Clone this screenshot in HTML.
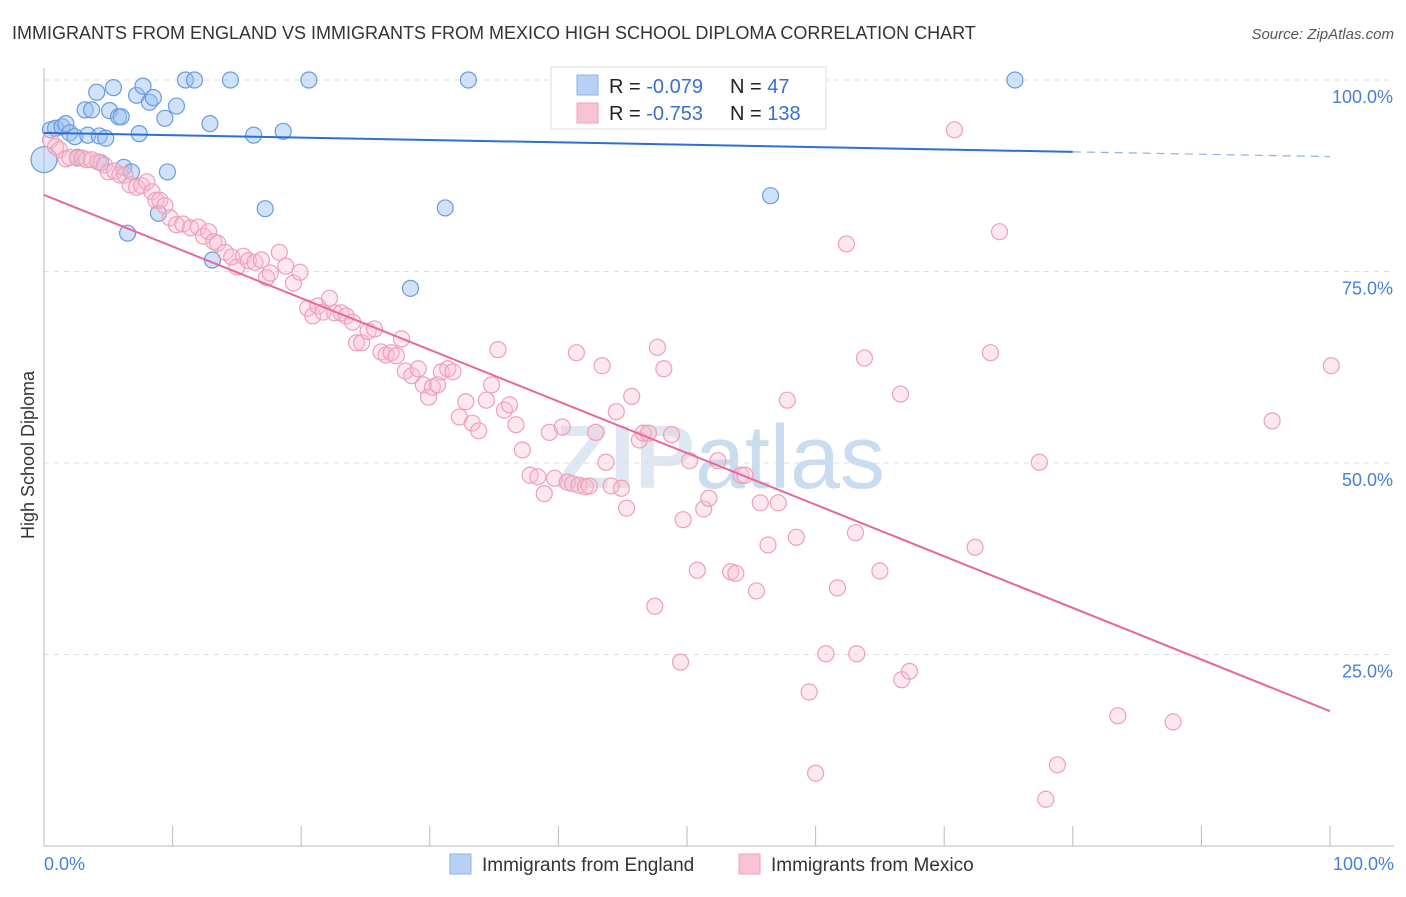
<!DOCTYPE html>
<html><head><meta charset="utf-8"><style>
body{margin:0;background:#fff;font-family:"Liberation Sans",sans-serif;}
svg text{font-family:"Liberation Sans",sans-serif;}
</style></head><body>
<svg id="chart" width="1406" height="892" xmlns="http://www.w3.org/2000/svg">
<text x="12" y="39" font-size="18" fill="#333">IMMIGRANTS FROM ENGLAND VS IMMIGRANTS FROM MEXICO HIGH SCHOOL DIPLOMA CORRELATION CHART</text>
<text x="1394" y="39" font-size="15" fill="#555" text-anchor="end" font-style="italic">Source: ZipAtlas.com</text>
<text x="720" y="488" font-size="90" fill="#dfe8f2" text-anchor="middle" font-weight="bold">ZIP<tspan font-weight="normal" fill="#c9dcf0">atlas</tspan></text>
<g id="grid"></g>
<g id="axes"></g>
<g id="pts"></g>
<g id="lines"></g>
<text x="34" y="455" font-size="18" fill="#333" text-anchor="middle" transform="rotate(-90 34 455)">High School Diploma</text>
<g>
<rect x="551" y="67" width="275" height="62" fill="#fff" stroke="#ddd"/>
<rect x="577" y="75" width="21" height="20" fill="#b7d0f3" stroke="#8fb2e6"/>
<rect x="577" y="103" width="21" height="20" fill="#f9c3d3" stroke="#eea4bb"/>
<text x="609" y="93" font-size="20" fill="#222">R = <tspan fill="#3a6fd0">-0.079</tspan></text>
<text x="730" y="93" font-size="20" fill="#222">N = <tspan fill="#3a6fd0"> 47</tspan></text>
<text x="609" y="120" font-size="20" fill="#222">R = <tspan fill="#3a6fd0"> -0.753</tspan></text>
<text x="730" y="120" font-size="20" fill="#222">N = <tspan fill="#3a6fd0">138</tspan></text>
</g>
<g>
<rect x="450" y="854" width="21" height="20" fill="#b7d0f3" stroke="#8fb2e6"/>
<text x="482" y="871" font-size="19" fill="#333">Immigrants from England</text>
<rect x="739" y="854" width="21" height="20" fill="#f9c3d3" stroke="#eea4bb"/>
<text x="771" y="871" font-size="19" fill="#333">Immigrants from Mexico</text>
</g>
</svg>
<script>
const yTicks=[100,75,50,25];
const yTickLabels=["100.0%","75.0%","50.0%","25.0%"];
const xTickLabels=["0.0%","100.0%"];
const englandPx=[[44,160],[50,130],[55,128],[62,127],[66,124],[70,133],[75,137],[78,157],[85,110],[88,135],[92,110],[97,92],[99,136],[101,163],[106,138],[110,111],[114,88],[118,117],[121,117],[124,167],[127,233],[132,172],[136,95],[139,134],[143,86],[149,102],[153,98],[158,213],[165,118],[168,172],[177,106],[186,80],[195,80],[210,124],[213,260],[231,80],[253,135],[265,209],[283,131],[309,80],[410,288],[445,208],[468,80],[771,196],[1015,80]];
const mexicoPx=[[50,140],[55,147],[60,150],[66,159],[70,157],[78,158],[82,158],[87,160],[92,160],[98,162],[104,165],[108,172],[115,171],[120,175],[125,175],[130,185],[137,187],[142,186],[147,182],[152,192],[156,200],[160,200],[165,206],[170,218],[176,225],[183,224],[190,228],[198,227],[204,236],[208,232],[214,242],[218,243],[225,252],[232,257],[237,267],[243,256],[249,261],[255,262],[261,260],[266,278],[270,273],[279,252],[286,266],[293,283],[300,272],[307,308],[313,316],[318,306],[323,312],[330,298],[335,313],[341,313],[346,316],[352,322],[356,343],[362,343],[368,331],[374,329],[381,352],[386,355],[391,353],[396,356],[401,339],[406,371],[412,376],[418,369],[424,385],[428,397],[433,387],[438,385],[442,372],[448,369],[453,372],[459,417],[466,402],[472,423],[479,431],[487,400],[492,385],[498,350],[505,410],[510,405],[516,425],[522,450],[530,475],[538,477],[544,494],[549,432],[555,478],[562,427],[567,482],[572,484],[576,353],[579,485],[585,487],[589,486],[596,432],[602,366],[606,462],[611,486],[616,412],[621,488],[627,508],[632,396],[639,440],[643,433],[648,433],[655,606],[658,347],[664,369],[671,435],[680,662],[683,520],[690,461],[697,570],[704,509],[709,498],[718,461],[731,572],[736,573],[741,475],[745,475],[757,591],[760,503],[768,545],[775,81],[778,503],[787,400],[796,537],[809,692],[815,773],[826,654],[838,588],[846,244],[855,533],[857,654],[865,358],[880,571],[900,394],[902,680],[909,671],[955,130],[975,547],[991,353],[999,232],[1040,462],[1046,799],[1058,765],[1118,716],[1173,722],[1272,421],[1331,366]];
// convert pixel readings to data values (percent)
const englandX=englandPx.map(p=>+((p[0]-44)/12.86).toFixed(1));
const englandY=englandPx.map(p=>+((846-p[1])/7.66).toFixed(1));
const mexicoX=mexicoPx.map(p=>+((p[0]-44)/12.86).toFixed(1));
const mexicoY=mexicoPx.map(p=>+((846-p[1])/7.66).toFixed(1));
const englandTrend=[93.1,90.0];
const mexicoTrend=[85.0,17.6];
const X0=44,X1=1330,Y0=846,Y100=80;
const sx=v=>X0+(X1-X0)*v/100;
const sy=v=>Y0-(Y0-Y100)*v/100;
const NS="http://www.w3.org/2000/svg";
function mk(parent,tag,attrs){const e=document.createElementNS(NS,tag);for(const k in attrs)e.setAttribute(k,attrs[k]);document.getElementById(parent).appendChild(e);return e;}
yTicks.forEach((t,i)=>{
 const g=mk('grid','line',{x1:X0,x2:1394,y1:sy(t),y2:sy(t),stroke:'#ddd','stroke-dasharray':'5,5'});
 
 
 const l=mk('axes','text',{x:1393,y:sy(t)+23,'font-size':18,fill:'#4a7fd6','text-anchor':'end'});
 l.textContent=yTickLabels[i];
 
 
});
const ax=mk('axes','line',{x1:X0,x2:X0,y1:68,y2:Y0,stroke:'#bbb'});


const bx=mk('axes','line',{x1:X0,x2:1394,y1:Y0,y2:Y0,stroke:'#bbb'});


for(let i=0;i<=10;i++){
 const t=mk('axes','line',{x1:sx(i*10),x2:sx(i*10),y1:826,y2:Y0,stroke:'#bbb'});
 
 
}
[[0,'start',44],[100,'end',1394]].forEach((d,i)=>{
 const l=mk('axes','text',{x:d[2],y:870,'font-size':18,fill:'#4a7fd6','text-anchor':d[1]});
 l.textContent=xTickLabels[i];
 
 
});
englandX.forEach((x,i)=>{
 const r=i===0?13:8;
 const c=mk('pts','circle',{cx:sx(x),cy:sy(englandY[i]),r:r,fill:'rgba(150,190,240,0.45)',stroke:'#6a9be0','stroke-width':1.2});
 
 
});
mexicoX.forEach((x,i)=>{
 const c=mk('pts','circle',{cx:sx(x),cy:sy(mexicoY[i]),r:8,fill:'rgba(248,190,210,0.35)',stroke:'#eea0b8','stroke-width':1.2});
 
 
});
const ey=x=>englandTrend[0]+(englandTrend[1]-englandTrend[0])*x/100;
const l1=mk('lines','line',{x1:sx(0),y1:sy(ey(0)),x2:sx(80),y2:sy(ey(80)),stroke:'#2d6fd6','stroke-width':2});


const l2=mk('lines','line',{x1:sx(80),y1:sy(ey(80)),x2:sx(100),y2:sy(ey(100)),stroke:'#8fb2e6','stroke-width':1.2,'stroke-dasharray':'8,6'});


const l3=mk('lines','line',{x1:sx(0),y1:sy(mexicoTrend[0]),x2:sx(100),y2:sy(mexicoTrend[1]),stroke:'#e8679a','stroke-width':2});


</script>
</body></html>
